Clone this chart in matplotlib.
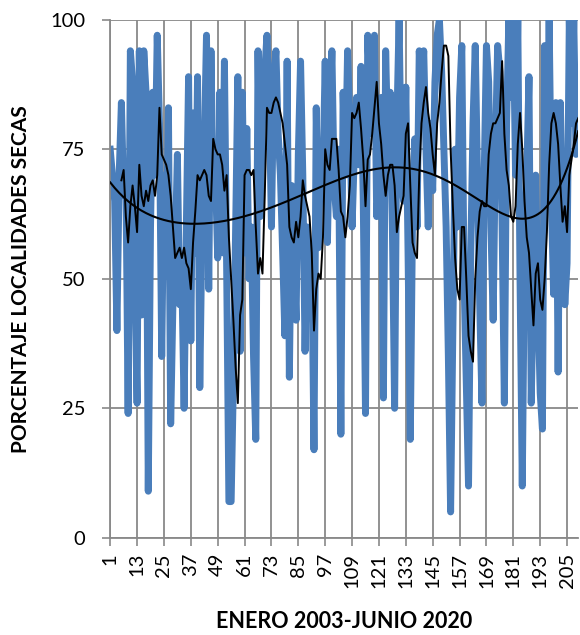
import numpy as np
import matplotlib.pyplot as plt

# monthly % of dry localities, Jan 2003 - Jun 2020
secas = [75, 70, 65, 40, 70, 84, 66, 70, 24, 94,
         88, 50, 26, 94, 43, 94, 86, 9, 60, 86,
         70, 97, 80, 35, 70, 55, 83, 22, 45, 55,
         74, 45, 50, 25, 60, 89, 38, 82, 55, 89,
         29, 60, 75, 97, 48, 94, 65, 70, 54, 86,
         55, 92, 52, 7, 7, 30, 60, 89, 36, 86,
         55, 79, 50, 60, 35, 19, 94, 62, 80, 90,
         97, 85, 60, 88, 94, 78, 70, 55, 39, 92,
         31, 68, 55, 42, 74, 92, 70, 36, 60, 45,
         55, 17, 83, 56, 75, 70, 92, 57, 80, 94,
         68, 62, 75, 20, 86, 70, 94, 80, 60, 74,
         85, 72, 91, 65, 24, 97, 85, 78, 97, 62,
         70, 85, 27, 94, 75, 86, 60, 25, 80, 100,
         70, 65, 87, 55, 19, 62, 77, 60, 94, 85,
         94, 75, 60, 80, 67, 88, 97, 100, 90, 75,
         60, 35, 5, 40, 75, 60, 85, 95, 50, 30,
         10, 55, 80, 95, 70, 45, 26, 70, 95, 88,
         60, 42, 75, 95, 90, 60, 26, 80, 100, 85,
         100, 70, 100, 50, 10, 55, 70, 89, 26, 50,
         70, 45, 28, 21, 95, 65, 100, 65, 47, 84,
         32, 84, 60, 45, 53, 100, 80, 100, 74, 78]

# moving average series (black thin line), starts at month 6
media_movil = [69, 71, 62, 57, 64, 68, 64, 59, 72, 66,
               64, 67, 65, 68, 69, 66, 70, 83, 74, 73,
               72, 70, 66, 60, 54, 55, 56, 54, 56, 53,
               52, 48, 57, 63, 70, 69, 70, 71, 70, 66,
               65, 77, 75, 74, 74, 72, 67, 70, 58, 50,
               42, 33, 26, 43, 46, 70, 71, 71, 70, 71,
               60, 51, 54, 51, 66, 83, 82, 82, 84, 85,
               84, 82, 80, 76, 72, 60, 58, 57, 61, 58,
               62, 69, 66, 64, 62, 55, 40, 48, 51, 50,
               58, 75, 72, 71, 77, 77, 77, 71, 63, 62,
               58, 62, 68, 82, 81, 82, 84, 79, 73, 64,
               73, 74, 78, 83, 88, 80, 76, 70, 66, 70,
               72, 72, 68, 59, 62, 64, 66, 78, 80, 68,
               57, 55, 54, 70, 80, 84, 87, 82, 79, 74,
               70, 80, 84, 90, 95, 95, 93, 75, 64, 54,
               48, 46, 60, 60, 50, 39, 36, 34, 50, 58,
               63, 65, 64, 64, 74, 78, 80, 80, 81, 82,
               92, 78, 71, 68, 62, 61, 64, 76, 82, 75,
               65, 58, 55, 48, 41, 51, 53, 46, 44, 50,
               59, 72, 80, 82, 80, 76, 68, 61, 64, 59,
               70, 73, 76, 80, 81]

meses = np.arange(1, len(secas) + 1)
meses_mm = np.arange(6, 6 + len(media_movil))

# 6th order polynomial trend line of the monthly series
poli = np.polynomial.Polynomial.fit(meses, secas, 6)
tendencia = poli(meses)

plt.rcParams['font.family'] = ['Lato', 'DejaVu Sans']

fig = plt.figure(figsize=(5.8, 6.35), dpi=100)
ax = fig.add_axes([0.19, 0.153, 0.807, 0.816])

ax.plot(meses, secas, color='#4a7ebb', linewidth=5, solid_joinstyle='round', zorder=2)
ax.plot(meses_mm, media_movil, color='black', linewidth=1.4, zorder=3)
ax.plot(meses, tendencia, color='black', linewidth=1.5, zorder=3)

ax.set_xlim(1, 210)
ax.set_ylim(0, 100)
ax.set_xticks(np.arange(1, 210, 12))
ax.set_xticklabels([str(v) for v in range(1, 210, 12)], rotation=90, fontsize=14.5)
ax.set_yticks([0, 25, 50, 75, 100])
ax.set_yticklabels(['0', '25', '50', '75', '100'], fontsize=14.5)
ax.tick_params(axis='both', direction='out', length=6, color='#898989', width=1.2, pad=5)
ax.tick_params(axis='y', pad=12)
ax.grid(True, color='#898989', linewidth=1.3, zorder=0)
ax.set_axisbelow(True)

for s in ['top', 'right']:
    ax.spines[s].set_visible(False)
for s in ['left', 'bottom']:
    ax.spines[s].set_color('#898989')
    ax.spines[s].set_linewidth(1.3)

ax.set_ylabel('PORCENTAJE LOCALIDADES SECAS', fontsize=15, fontweight='bold', labelpad=14)
ax.set_xlabel('ENERO 2003-JUNIO 2020', fontsize=15.5, fontweight='bold', labelpad=16)

fig.savefig('out.png', dpi=100)
